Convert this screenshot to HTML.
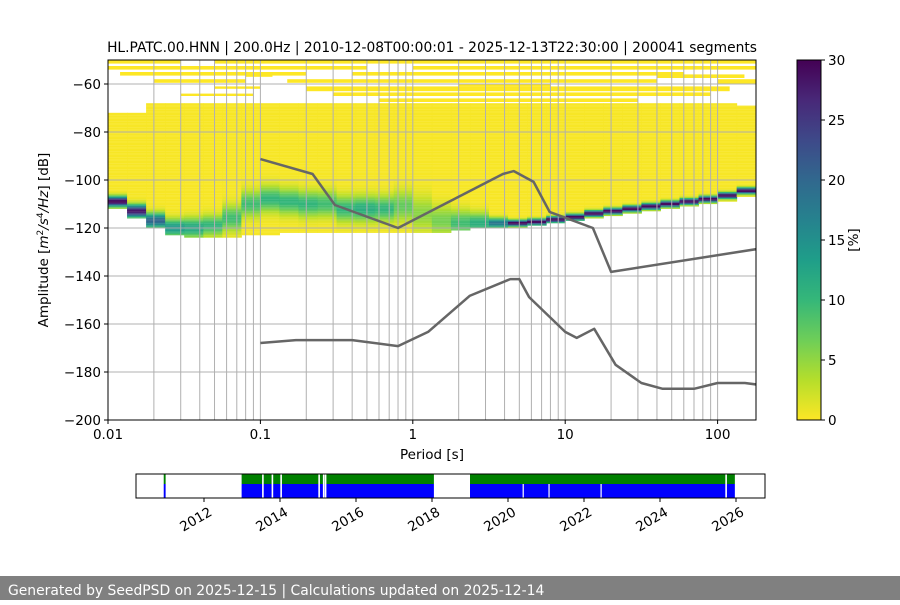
<!DOCTYPE html>
<html><head><meta charset="utf-8">
<style>
html,body{margin:0;padding:0;background:#fff;}
svg text{font-family:"DejaVu Sans","Liberation Sans",sans-serif;}
</style></head>
<body>
<svg id="fig" width="900" height="600" viewBox="0 0 900 600" xmlns="http://www.w3.org/2000/svg">
<defs>
<clipPath id="plotclip"><rect x="108" y="60" width="648" height="360"/></clipPath>
<linearGradient id="cbgrad" x1="0" y1="1" x2="0" y2="0">
<stop offset="0" stop-color="#fde725"/><stop offset="0.111" stop-color="#b5de2b"/><stop offset="0.222" stop-color="#6ece58"/><stop offset="0.333" stop-color="#35b779"/><stop offset="0.444" stop-color="#1f9e89"/><stop offset="0.556" stop-color="#26828e"/><stop offset="0.667" stop-color="#31688e"/><stop offset="0.778" stop-color="#3e4989"/><stop offset="0.889" stop-color="#482878"/><stop offset="1" stop-color="#440154"/>
</linearGradient>
</defs>
<g id="heat" clip-path="url(#plotclip)"></g>
<g id="grid"></g>
<g id="models" clip-path="url(#plotclip)"></g>
<rect x="108" y="60" width="648" height="360" fill="none" stroke="#000" stroke-width="1"/>
<g id="axes"></g>
<text x="432" y="52" text-anchor="middle" font-size="13.8">HL.PATC.00.HNN | 200.0Hz | 2010-12-08T00:00:01 - 2025-12-13T22:30:00 | 200041 segments</text>
<text x="432" y="459" text-anchor="middle" font-size="13.5">Period [s]</text>
<text transform="translate(48,240) rotate(-90)" text-anchor="middle" font-size="13.5">Amplitude [<tspan font-style="italic">m</tspan><tspan font-size="9" dy="-5">2</tspan><tspan dy="5" font-style="italic">/s</tspan><tspan font-size="9" dy="-5">4</tspan><tspan dy="5" font-style="italic">/Hz</tspan>] [dB]</text>
<rect x="797" y="60" width="24" height="360" fill="url(#cbgrad)" stroke="#000" stroke-width="1"/>
<g id="cbticks"></g>
<text transform="translate(858,240) rotate(-90)" text-anchor="middle" font-size="13.5">[%]</text>
<g id="timeline"></g>
<rect x="0" y="576" width="900" height="24" fill="#808080"/>
<text x="8" y="595" font-size="13.9" fill="#fff">Generated by SeedPSD on 2025-12-15 | Calculations updated on 2025-12-14</text>
</svg>
<script>
// ---- PSD heatmap columns (1/8 decade bins starting at 0.01 s) ----
const colTop = [-72,-72,-68,-68,-68,-68,-68,-68,-68,-68,-68,-68,-68,-68,-68,-68,-68,-68,-68,-68,-68,-68,-68,-68,-68,-68,-68,-68,-68,-68,-68,-68,-68,-69,-69];
const colBottom = [-112,-116,-120,-123,-124,-124,-124,-123,-123,-122,-122,-122,-122,-122,-122,-122,-122,-122,-121,-120,-120,-120,-119,-118,-117,-116,-115,-114,-113,-112,-111,-110,-109,-107,-106];
const colMode = [-109,-113,-117,-120,-120,-119,-116,-110,-108,-109,-110,-110,-112,-112,-112,-111,-114,-117,-118,-118,-118,-118,-117.5,-116.5,-115.5,-114,-113,-112,-111,-110,-109,-108,-106.5,-104.5,-103.5];
const colPeak = [30,28,20,14,12,10,9,9,10,10,10,9,10,11,10,7,5,6,9,11,18,30,30,30,30,30,30,30,30,30,30,30,30,30,30];
const colWidth = [2,2.5,3,3.5,4,4,5,5,5,5,5,5,5,5,5,6,7,6,5,4,2,1.2,1.2,1.2,1.2,1.2,1.2,1.2,1.2,1.2,1.2,1.2,1.2,1.2,1.2];
// sparse high-amplitude outliers: [periodStart, periodEnd, dBtop, dBbottom]
const sparse = [[0.01,0.03,-50,-51.5],[0.05,180,-50,-51.5],[0.01,0.5,-52.5,-54],[1,180,-52.5,-54],[0.012,0.2,-55,-56.5],[0.4,60,-55,-56.5],[0.02,0.08,-58,-59.5],[0.15,40,-58,-59.5],[0.05,0.1,-61,-62],[0.2,120,-61,-63],[0.03,0.09,-64,-65],[0.3,90,-63.5,-65],[0.6,30,-66,-67.5],[2,8,-60,-61],[0.08,0.12,-55,-57],[40,150,-56,-57.5],[100,180,-58,-60]];
// noise model curves
const hiPer = [0.1,0.22,0.308,0.8,3.9,4.6,6.2,7.9,15.2,20,180];
const hiDb = [-91.3,-97.5,-110.4,-120,-97.5,-96.3,-100.8,-113.3,-120,-138.3,-128.8];
const loPer = [0.1,0.171,0.4,0.8,1.26,2.36,4.36,5.0,5.8,10,11.9,15.5,21.4,31.6,43.6,70,100,151,180];
const loDb = [-167.9,-166.7,-166.7,-169.2,-163.3,-148.3,-141.3,-141.3,-148.8,-163.3,-165.8,-162,-177,-184.6,-187,-187,-184.6,-184.6,-185.2];
// availability timeline (decimal years)
const segStart = [2010.94,2012.99,2019.0];
const segEnd = [2010.99,2018.05,2025.97];
const gapsBoth = [2013.55,2013.8,2014.03,2015.03,2015.15,2015.2,2025.74];
const gapsBlue = [2020.4,2021.08,2022.45];
const yearTicks = [2012,2014,2016,2018,2020,2022,2024,2026];
const yTicks = [-60,-80,-100,-120,-140,-160,-180,-200];
const xTicks = [0.01,0.1,1,10,100];
const cbTicks = [0,5,10,15,20,25,30];

const NS="http://www.w3.org/2000/svg";
function el(tag,attrs,parent){const e=document.createElementNS(NS,tag);for(const k in attrs)e.setAttribute(k,attrs[k]);parent.appendChild(e);return e;}
const X=p=>108+(Math.log10(p)+2)*152.4;
const Y=d=>84+(-60-d)*2.4;
const T=t=>204+(t-2012)*38.0;
const vir=["#fde725","#b5de2b","#6ece58","#35b779","#1f9e89","#26828e","#31688e","#3e4989","#482878","#440154"];
function hx(c){return [1,3,5].map(i=>parseInt(c.substr(i,2),16));}
function cmap(v){let f=Math.max(0,Math.min(1,v/30))*(vir.length-1);let i=Math.min(vir.length-2,Math.floor(f));let t=f-i;const a=hx(vir[i]),b=hx(vir[i+1]);return "rgb("+a.map((x,k)=>Math.round(x+(b[k]-x)*t)).join(",")+")";}

const heat=document.getElementById('heat');
sparse.forEach(s=>{
  const r=el('rect',{x:X(s[0]),y:Y(s[2]),width:X(s[1])-X(s[0]),height:Y(s[3])-Y(s[2]),fill:'#fde725'},heat);
  
  
});
colTop.forEach((top,i)=>{
  const p0=Math.pow(10,-2+0.125*i),p1=Math.pow(10,-2+0.125*(i+1));
  const x0=X(p0),w=X(p1)-X(p0)+0.5;
  for(let d=top;d>colBottom[i];d-=0.5){
    const dm=d-0.25;
    const v=0.3+colPeak[i]*Math.exp(-Math.pow((dm-colMode[i])/colWidth[i],2));
    const r=el('rect',{x:x0,y:Y(d),width:w,height:1.3,fill:cmap(v)},heat);
    
    
  }
});

const grid=document.getElementById('grid');
for(let dec=-2;dec<=2;dec++){for(let m=1;m<=9;m++){const p=m*Math.pow(10,dec);const x=X(p);if(x<=108.5||x>755)continue;
  const l=el('line',{x1:x,x2:x,y1:60,y2:420,stroke:'#b0b0b0','stroke-width':1},grid);
  
  }}
yTicks.forEach(d=>{const y=Y(d);if(y>=419)return;
  const l=el('line',{x1:108,x2:756,y1:y,y2:y,stroke:'#b0b0b0','stroke-width':1},grid);
  
  });

const models=document.getElementById('models');
function curve(per,db,name){const pts=per.map((p,i)=>X(p).toFixed(1)+","+Y(db[i]).toFixed(1)).join(" ");
  const pl=el('polyline',{points:pts,fill:'none',stroke:'#666','stroke-width':2.5,'stroke-linejoin':'round'},models);
  
  }
curve(hiPer,hiDb,'high-noise-model');
curve(loPer,loDb,'low-noise-model');

const axes=document.getElementById('axes');
yTicks.forEach(d=>{const y=Y(d);
  el('line',{x1:104,x2:108,y1:y,y2:y,stroke:'#000'},axes);
  const t=el('text',{x:101,y:y+5,'text-anchor':'end','font-size':13.5},axes);t.textContent="\u2212"+Math.abs(d);
  
  });
xTicks.forEach(p=>{const x=X(p);
  el('line',{x1:x,x2:x,y1:420,y2:424,stroke:'#000'},axes);
  const t=el('text',{x:x,y:439,'text-anchor':'middle','font-size':13.5},axes);t.textContent=String(p);
  
  });

const cb=document.getElementById('cbticks');
cbTicks.forEach(v=>{const y=420-v/30*360;
  el('line',{x1:821,x2:825,y1:y,y2:y,stroke:'#000'},cb);
  const t=el('text',{x:828,y:y+5,'font-size':13.5},cb);t.textContent=v;
  
  });

const tl=document.getElementById('timeline');
segStart.forEach((s,i)=>{const x0=T(s),w=Math.max(1.5,T(segEnd[i])-x0);
  const g=el('rect',{x:x0,y:474,width:w,height:10,fill:'#008000'},tl);
  
  
  const b=el('rect',{x:x0,y:484,width:w,height:14,fill:'#0000ff'},tl);
  
  });
gapsBoth.forEach(t=>{const g=el('rect',{x:T(t)-0.8,y:474,width:1.6,height:24,fill:'#fff'},tl);
  
  });
gapsBlue.forEach(t=>{const g=el('rect',{x:T(t)-0.6,y:484,width:1.2,height:14,fill:'#fff'},tl);
  
  });
el('rect',{x:136,y:474,width:629,height:24,fill:'none',stroke:'#000'},tl);
yearTicks.forEach(yr=>{const x=T(yr);
  el('line',{x1:x,x2:x,y1:498,y2:502,stroke:'#000'},tl);
  const t=el('text',{'text-anchor':'end','font-size':13.5,transform:`translate(${x+4},${506}) rotate(-30)`},tl);
  t.setAttribute('dy','10');t.textContent=yr;
  
  });
</script>
</body></html>
